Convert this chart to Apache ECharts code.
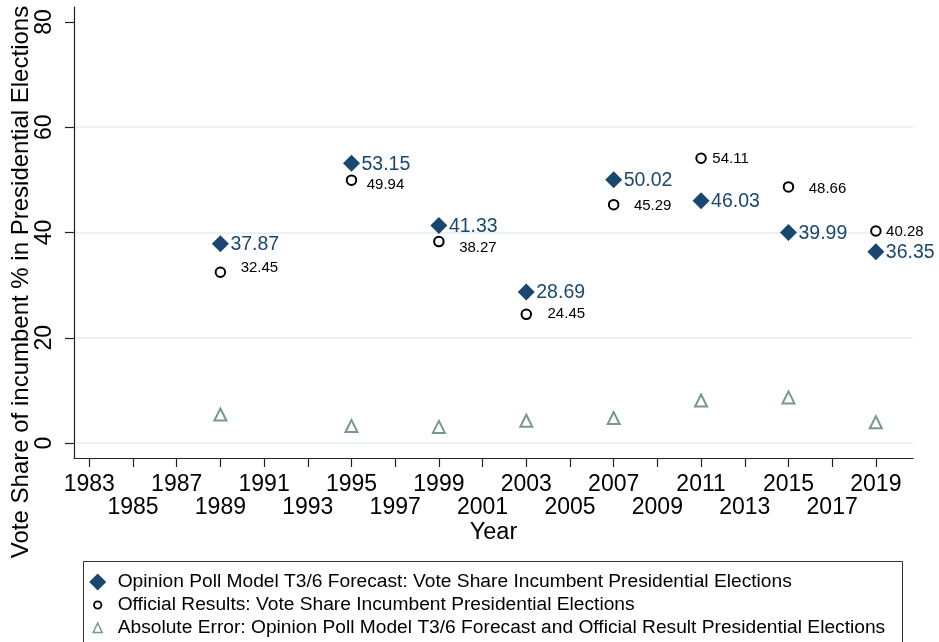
<!DOCTYPE html>
<html>
<head>
<meta charset="utf-8">
<script src="https://cdn.jsdelivr.net/npm/echarts@6/dist/echarts.min.js"></script>
<style>
html,body{margin:0;padding:0;background:#fff;}
#chart{width:939px;height:642px;}
</style>
</head>
<body>
<div id="chart"></div>
<script>
// ---- data ----
const years = [1989, 1995, 1999, 2003, 2007, 2011, 2015, 2019];
const forecast = [37.87, 53.15, 41.33, 28.69, 50.02, 46.03, 39.99, 36.35];
const official = [32.45, 49.94, 38.27, 24.45, 45.29, 54.11, 48.66, 40.28];
const absError = [5.42, 3.21, 3.06, 4.24, 4.73, 8.08, 8.67, 3.93];
const xTicks = [1983,1985,1987,1989,1991,1993,1995,1997,1999,2001,2003,2005,2007,2009,2011,2013,2015,2017,2019];
const xLabelsRow1 = [1983,1987,1991,1995,1999,2003,2007,2011,2015,2019];
const xLabelsRow2 = [1985,1989,1993,1997,2001,2005,2009,2013,2017];
const yTicks = [0, 20, 40, 60, 80];
const yGridLines = [0, 20, 40, 60];
const seriesNames = [
  'Opinion Poll Model T3/6 Forecast: Vote Share Incumbent Presidential Elections',
  'Official Results: Vote Share Incumbent Presidential Elections',
  'Absolute Error: Opinion Poll Model T3/6 Forecast and Official Result Presidential Elections'
];
const yTitle = 'Vote Share of incumbent % in Presidential Elections';
const xTitle = 'Year';

// ---- styling (label placement per point, not data) ----
const officialLabelShift = [[14.5,-4],[9.5,5],[14.5,6],[15.5,0],[14.5,1],[5.5,1],[14.5,2],[4.5,1]];

const NAVY = '#1a476f';
const GREEN = '#76998b';
const FONT = '"Liberation Sans", Arial, Helvetica, sans-serif';
const X_MIN = 1982.3, X_MAX = 2020.7;

function svgIcon(inner){
  const svg = '<svg xmlns="http://www.w3.org/2000/svg" width="24" height="18" viewBox="0 0 24 18">' + inner + '</svg>';
  return 'image://data:image/svg+xml;utf8,' + encodeURIComponent(svg);
}
const iconDiamond = svgIcon('<polygon points="9,0.5 17.5,9 9,17.5 0.5,9" fill="' + NAVY + '"/>');
const iconCircle = svgIcon('<circle cx="9" cy="9" r="3.7" fill="none" stroke="#000" stroke-width="1.8"/>');
const iconTriangle = svgIcon('<polygon points="9,4 13.5,13.5 4.5,13.5" fill="none" stroke="' + GREEN + '" stroke-width="1.5"/>');

const chart = echarts.init(document.getElementById('chart'), null, {renderer: 'canvas'});

const tickLabelBase = {fontSize: 23, color: '#000', fontFamily: FONT, showMinLabel: true, showMaxLabel: true, hideOverlap: false,
                       formatter: v => String(v)};

const option = {
  backgroundColor: '#fff',
  animation: false,
  textStyle: {fontFamily: FONT},
  grid: {left: 74, right: 26, top: 7, bottom: 184, containLabel: false},
  xAxis: [{
    type: 'value',
    min: X_MIN, max: X_MAX,
    name: xTitle,
    nameLocation: 'middle',
    nameGap: 63,
    nameTextStyle: {fontSize: 23.5, color: '#000', fontFamily: FONT},
    axisLine: {show: true, onZero: false, lineStyle: {color: '#222', width: 1.2}},
    axisTick: {show: true, length: 9, customValues: xTicks, lineStyle: {color: '#222', width: 1.2}},
    axisLabel: Object.assign({customValues: xLabelsRow1, margin: 15}, tickLabelBase),
    splitLine: {show: false}
  }, {
    type: 'value',
    min: X_MIN, max: X_MAX,
    position: 'bottom',
    axisLine: {show: false, onZero: false},
    axisTick: {show: false},
    axisLabel: Object.assign({customValues: xLabelsRow2, margin: 38}, tickLabelBase),
    splitLine: {show: false}
  }],
  yAxis: {
    type: 'value',
    min: -2.85, max: 82.85,
    axisLine: {show: true, onZero: false, lineStyle: {color: '#222', width: 1.2}},
    axisTick: {show: true, length: 9, customValues: yTicks, lineStyle: {color: '#222', width: 1.2}},
    axisLabel: Object.assign({customValues: yTicks, rotate: 90, margin: 18}, tickLabelBase),
    splitLine: {show: false}
  },
  legend: {
    orient: 'vertical',
    left: 88.7, top: 572.5,
    itemWidth: 24, itemHeight: 18, itemGap: 4,
    padding: 0,
    selectedMode: false,
    textStyle: {fontSize: 19.2, color: '#000', lineHeight: 18, fontFamily: FONT},
    data: [
      {name: seriesNames[0], icon: iconDiamond},
      {name: seriesNames[1], icon: iconCircle},
      {name: seriesNames[2], icon: iconTriangle}
    ]
  },
  graphic: [
    {type: 'rect', shape: {x: 83.5, y: 561.5, width: 819, height: 100}, style: {fill: 'none', stroke: '#333', lineWidth: 1}, silent: true, z: 100},
    {type: 'text', x: 21, y: 282, rotation: Math.PI / 2,
     style: {text: yTitle, fontSize: 24, fill: '#000', fontFamily: FONT, align: 'center', verticalAlign: 'middle'}, silent: true}
  ],
  series: [
    {
      // horizontal grid lines at the y ticks (except the top one)
      name: 'grid',
      type: 'line',
      data: [],
      silent: true,
      z: 0,
      markLine: {
        z: 0,
        symbol: ['none', 'none'],
        silent: true,
        label: {show: false},
        lineStyle: {color: '#e4eef1', width: 1.5, type: 'solid'},
        data: yGridLines.map(v => ({yAxis: v}))
      }
    },
    {
      name: seriesNames[0],
      type: 'scatter',
      symbol: 'diamond',
      symbolSize: 17,
      itemStyle: {color: NAVY, opacity: 1},
      label: {show: true, position: 'right', distance: 1.5, offset: [0, 1], color: NAVY, fontSize: 19.5, fontFamily: FONT,
              formatter: p => p.value[1].toFixed(2)},
      data: years.map((y, i) => [y, forecast[i]]),
      z: 3
    },
    {
      name: seriesNames[1],
      type: 'scatter',
      symbol: 'circle',
      symbolSize: 9.5,
      itemStyle: {color: '#fff', borderColor: '#000', borderWidth: 2, opacity: 1},
      data: years.map((y, i) => ({
        value: [y, official[i]],
        label: {offset: officialLabelShift[i]}
      })),
      label: {show: true, position: 'right', distance: 0, color: '#000', fontSize: 15, fontFamily: FONT,
              formatter: p => p.value[1].toFixed(2)},
      z: 2
    },
    {
      name: seriesNames[2],
      type: 'scatter',
      symbol: 'triangle',
      symbolSize: 12,
      itemStyle: {color: '#fff', borderColor: GREEN, borderWidth: 2, opacity: 1},
      data: years.map((y, i) => [y, absError[i]]),
      z: 2
    }
  ]
};
chart.setOption(option);
</script>
</body>
</html>
